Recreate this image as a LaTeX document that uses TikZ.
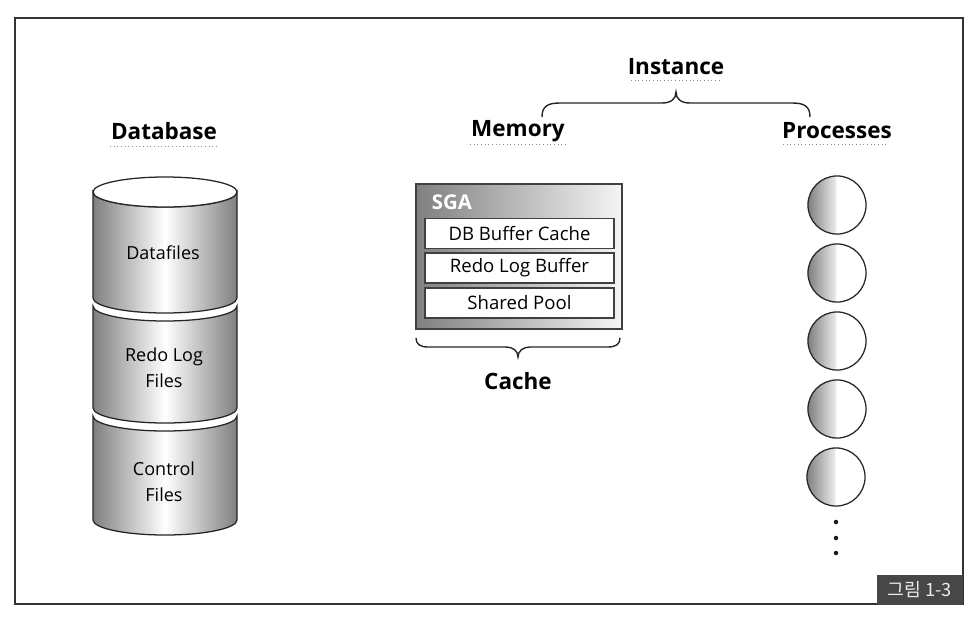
\documentclass[tikz,border=0pt]{standalone}
\usepackage{fontspec}
\setmainfont{Open Sans}
\newfontfamily\krfont{Noto Sans CJK KR}
\pgfdeclarehorizontalshading{procshade}{100bp}{color(0bp)=(black!50); color(25bp)=(black!50); color(48bp)=(black!10); color(50bp)=(white); color(100bp)=(white)}
\newcommand{\cylseg}[2]{(93,#1) -- (93,#2) .. controls (93,{#2+8.3}) and (125.3,{#2+15}) .. (165,{#2+15}) .. controls (204.7,{#2+15}) and (237,{#2+8.3}) .. (237,#2) -- (237,#1) .. controls (237,{#1+8.3}) and (204.7,{#1+15}) .. (165,{#1+15}) .. controls (125.3,{#1+15}) and (93,{#1+8.3}) .. (93,#1) -- cycle}
\tikzset{
  heading/.style={font=\bfseries\fontsize{16}{18}\selectfont, inner sep=0pt},
  dbtext/.style={font=\fontsize{12.8}{18.5}\selectfont, align=center, inner sep=0pt},
  sgabox/.style={draw=black!75, line width=0.9pt, fill=white, minimum width=134.4pt, minimum height=21.5pt, inner sep=0pt, font=\fontsize{13.2}{14}\selectfont},
  uline/.style={black!45, dotted, line width=0.6pt},
  bracel/.style={line width=1pt, black!85},
  cylshade/.style={left color=black!50, right color=black!50, middle color=white},
  cylline/.style={draw=black!85, line width=0.9pt},
  proc/.style={circle, draw=black!85, line width=0.9pt, minimum size=41.3pt, inner sep=0pt, shading=procshade},
  dotn/.style={circle, fill=black!90, minimum size=3.2pt, inner sep=0pt},
}
\begin{document}
\begin{tikzpicture}[x=0.025cm, y=-0.025cm]
\useasboundingbox (0,0) rectangle (980,626);
% frame
\draw[black!80, line width=1.3pt] (15,18) rectangle (963,604);

% headings
\node[heading] (db) at (164,131) {Database};
\draw[uline] (110,146) -- (218,146);
\node[heading] (mem) at (518,131) {Memory};
\draw[uline] (470,144) -- (566,144);
\node[heading] (proc) at (837,131) {Processes};
\draw[uline] (783,144) -- (889,144);
\node[heading] (inst) at (676,67) {Instance};
\draw[uline] (631,80) -- (722,80);

% instance brace
\draw[bracel] (542,117) .. controls (542,106) and (548,103) .. (560,103) -- (662,103) .. controls (671,103) and (676,99) .. (676,92) .. controls (676,99) and (681,103) .. (690,103) -- (792,103) .. controls (804,103) and (810,106) .. (810,117);

% cylinder
\shade[cylshade] \cylseg{192}{298};
\draw[cylline] \cylseg{192}{298};
\draw[cylline, fill=white] (165,192) ellipse [x radius=72, y radius=15];
\shade[cylshade] \cylseg{306}{408};
\draw[cylline] \cylseg{306}{408};
\shade[cylshade] \cylseg{416}{520};
\draw[cylline] \cylseg{416}{520};
\node[dbtext] (df) at (163,253) {Datafiles};
\node[dbtext] (rl) at (164,368) {Redo Log\\Files};
\node[dbtext] (cf) at (164,482) {Control\\Files};

% SGA
\shade[left color=black!50, right color=black!4, draw=black!75, line width=0.9pt] (416,184) rectangle (622,329);
\node[font=\bfseries\fontsize{14.5}{16}\selectfont, text=white, inner sep=0pt] (sga) at (452,202) {SGA};
\node[sgabox] (b1) at (519.5,233.5) {DB Buffer Cache};
\node[sgabox] (b2) at (519.5,268) {Redo Log Buffer};
\node[sgabox] (b3) at (519.5,303) {Shared Pool};

% cache brace
\draw[bracel] (416,338) .. controls (416,344) and (420,347) .. (428,347) -- (506,347) .. controls (513,347) and (518,351) .. (518,357) .. controls (518,351) and (523,347) .. (530,347) -- (608,347) .. controls (616,347) and (620,344) .. (620,338);
\node[heading] (cache) at (518,381) {Cache};

% processes
\node[proc] (p1) at (837,205) {};
\node[proc] (p2) at (837,273) {};
\node[proc] (p3) at (837,341) {};
\node[proc] (p4) at (837,409) {};
\node[proc] (p5) at (836,477) {};
\node[dotn] (d1) at (836,522) {};
\node[dotn] (d2) at (836,538) {};
\node[dotn] (d3) at (836,553) {};

% figure label
\node[fill=black!72, text=black!8, minimum width=61.2pt, minimum height=21.3pt, inner sep=0pt, anchor=south east, font=\krfont\fontsize{13}{14}\selectfont] (fig) at (963,605) {그림 1-3};
\end{tikzpicture}
\end{document}
